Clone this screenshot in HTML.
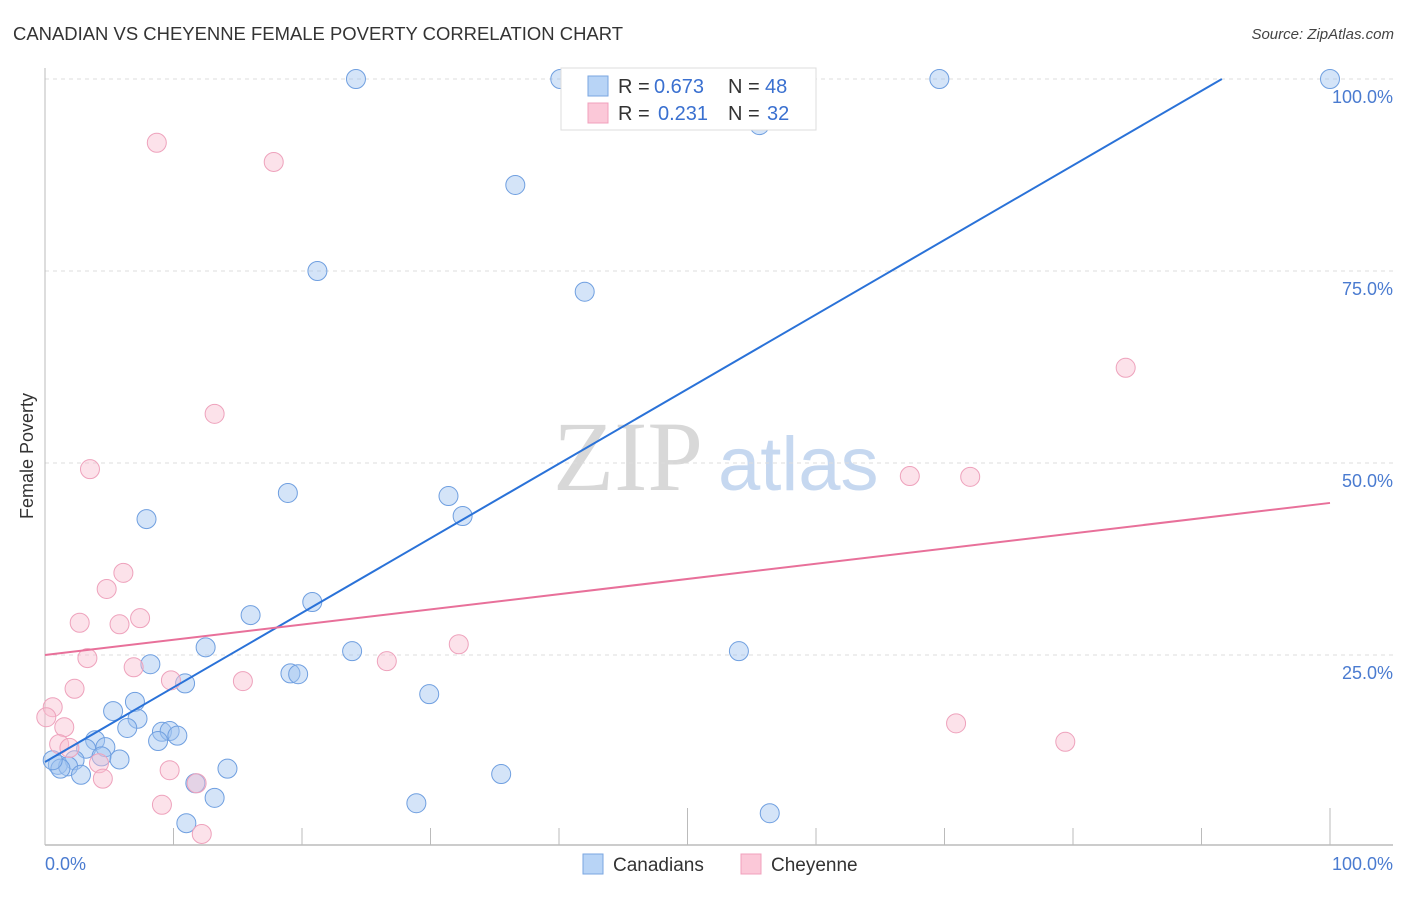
<!DOCTYPE html>
<html><head><meta charset="utf-8"><style>
body{margin:0;background:#fff;font-family:"Liberation Sans",sans-serif}
</style></head><body>
<svg width="1406" height="892" xmlns="http://www.w3.org/2000/svg" id="svg">
<text x="13" y="40" font-size="18" fill="#333" textLength="610" lengthAdjust="spacingAndGlyphs">CANADIAN VS CHEYENNE FEMALE POVERTY CORRELATION CHART</text>
<text x="1394" y="39" font-size="15" fill="#444" font-style="italic" text-anchor="end">Source: ZipAtlas.com</text>
<text x="553" y="490" font-size="100" font-family="Liberation Serif" fill="#d8d8d8">ZIP</text>
<text x="718" y="490" font-size="76" fill="#c6d8f0">atlas</text>
<g id="grid"></g>
<line x1="45" y1="68" x2="45" y2="845" stroke="#bbb"/>
<line x1="45" y1="845" x2="1393" y2="845" stroke="#bbb" stroke-width="1.5"/>
<g id="ticks"></g>
<text transform="translate(33,456) rotate(-90)" font-size="18" fill="#333" text-anchor="middle">Female Poverty</text>
<text x="45" y="870" font-size="18" fill="#4a7bd0">0.0%</text>
<text x="1393" y="870" font-size="18" fill="#4a7bd0" text-anchor="end">100.0%</text>
<g id="pts"></g>
<g id="lines"></g>
<g>
<rect x="561" y="68" width="255" height="62" fill="#fff" stroke="#ddd"/>
<rect x="588" y="76" width="20" height="20" fill="#b8d4f6" stroke="#7aa6e0"/>
<rect x="588" y="103" width="20" height="20" fill="#fbc8d8" stroke="#f0a0bc"/>
<text x="618" y="93" font-size="20" fill="#333">R =</text>
<text x="654" y="93" font-size="20" fill="#3a70d0">0.673</text>
<text x="728" y="93" font-size="20" fill="#333">N =</text>
<text x="765" y="93" font-size="20" fill="#3a70d0">48</text>
<text x="618" y="120" font-size="20" fill="#333">R =</text>
<text x="658" y="120" font-size="20" fill="#3a70d0">0.231</text>
<text x="728" y="120" font-size="20" fill="#333">N =</text>
<text x="767" y="120" font-size="20" fill="#3a70d0">32</text>
</g>
<g>
<rect x="583" y="854" width="20" height="20" fill="#b8d4f6" stroke="#7aa6e0"/>
<text x="613" y="871" font-size="19" fill="#333">Canadians</text>
<rect x="741" y="854" width="20" height="20" fill="#fbc8d8" stroke="#f0a0bc"/>
<text x="771" y="871" font-size="19" fill="#333">Cheyenne</text>
</g>
</svg>
<script>
const yTicks=[25,50,75,100];
const canX=[24.2,40.1,69.6,100,55.6,36.6,21.2,42,18.9,31.4,32.5,7.9,16,20.8,12.5,23.9,54,8.2,10.9,19.1,19.7,29.9,7,5.3,7.2,6.4,9.1,9.7,8.8,10.3,3.9,3.2,4.7,4.4,2.3,5.8,1,1.8,1.2,0.6,2.8,14.2,11.7,13.2,35.5,28.9,11,56.4];
const canY=[100,100,100,100,94,86.2,75,72.3,46.1,45.7,43.1,42.7,30.2,31.9,26,25.5,25.5,23.8,21.3,22.6,22.5,19.9,18.9,17.7,16.7,15.5,15,15.1,13.8,14.5,13.9,12.8,13,11.8,11.3,11.4,10.7,10.5,10.2,11.3,9.4,10.2,8.3,6.4,9.5,5.7,3.1,4.4];
const cheX=[8.7,17.8,84.1,13.2,3.5,67.3,72,6.1,4.8,7.4,2.7,5.8,32.2,3.3,26.6,6.9,9.8,15.4,2.3,0.6,0.1,1.5,70.9,1.1,1.9,79.4,4.2,9.7,4.5,11.8,9.1,12.2];
const cheY=[91.7,89.2,62.4,56.4,49.2,48.3,48.2,35.7,33.6,29.8,29.2,29.0,26.4,24.6,24.2,23.4,21.7,21.6,20.6,18.2,16.9,15.6,16.1,13.4,12.9,13.7,10.9,10.0,8.9,8.3,5.5,1.7];
const canLine=[11.07,108.17];
const cheLine=[25.0,44.8];
const X=v=>45+v*12.85, Y=v=>847-v*7.68;
const NS='http://www.w3.org/2000/svg';
function mk(t,a,p){const e=document.createElementNS(NS,t);for(const k in a)e.setAttribute(k,a[k]);p.appendChild(e);return e;}
const grid=document.getElementById('grid');
yTicks.forEach(t=>{
 const l=mk('line',{x1:45,x2:1393,y1:Y(t),y2:Y(t),stroke:'#ddd','stroke-dasharray':'4,4'},grid);
 
 
 const tx=mk('text',{x:1393,y:Y(t)+24,'font-size':18,fill:'#4a7bd0','text-anchor':'end'},grid);
 tx.textContent=t.toFixed(1)+'%';
 
 
});
const ticks=document.getElementById('ticks');
for(let i=1;i<=10;i++){
 const tall=(i==5||i==10);
 const l=mk('line',{x1:X(i*10),x2:X(i*10),y1:tall?808:828,y2:845,stroke:'#bbb'},ticks);
 
 
}
const pts=document.getElementById('pts');
canX.forEach((x,i)=>{
 const c=mk('circle',{cx:X(x),cy:Y(canY[i]),r:9.5,fill:'rgba(160,196,240,0.45)',stroke:'#6f9fe0','stroke-width':1},pts);
 
 
});
cheX.forEach((x,i)=>{
 const c=mk('circle',{cx:X(x),cy:Y(cheY[i]),r:9.5,fill:'rgba(248,190,208,0.45)',stroke:'#eea2bc','stroke-width':1},pts);
 
 
});
const lines=document.getElementById('lines');
const xe=(100-canLine[0])/(canLine[1]-canLine[0])*100;
const bl=mk('line',{x1:X(0),y1:Y(canLine[0]),x2:X(xe),y2:Y(100),stroke:'#2a72d8','stroke-width':2},lines);


const pl=mk('line',{x1:X(0),y1:Y(cheLine[0]),x2:X(100),y2:Y(cheLine[1]),stroke:'#e8709a','stroke-width':2},lines);


</script>
</body></html>
